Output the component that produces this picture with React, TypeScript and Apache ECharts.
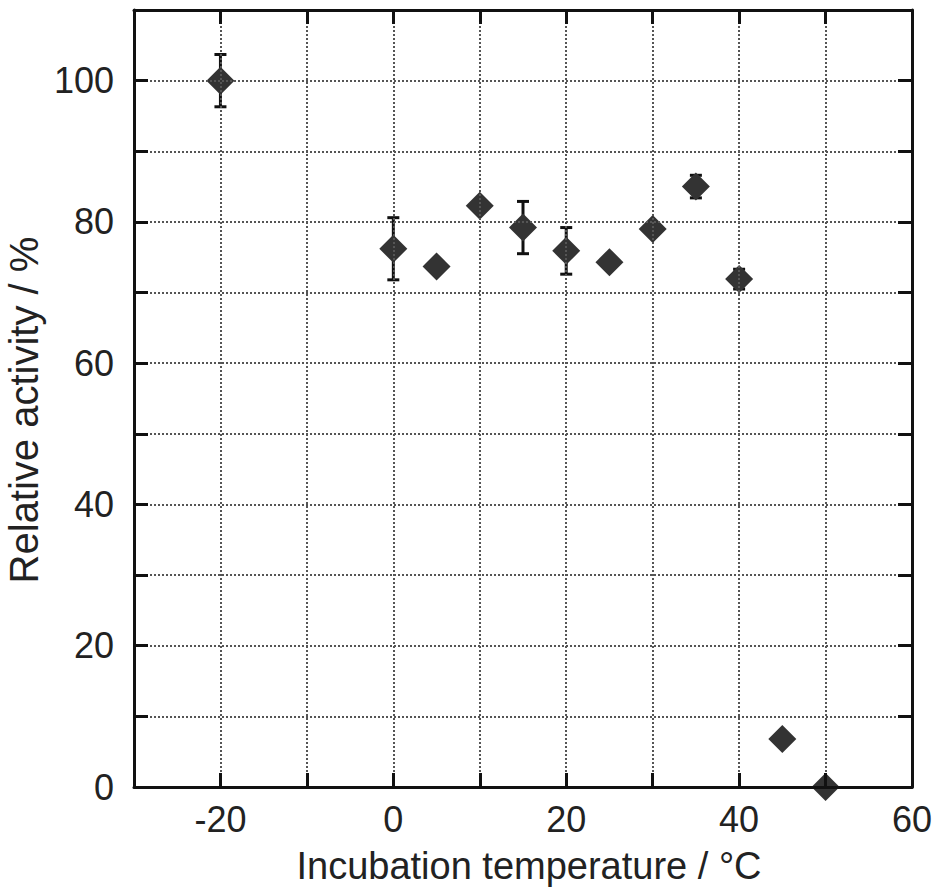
import React, { useEffect, useRef } from "react";
import * as echarts from "echarts";

const temperatures = [-20, 0, 5, 10, 15, 20, 25, 30, 35, 40, 45, 50];
const activity = [100, 76.2, 73.7, 82.3, 79.2, 75.9, 74.3, 79.0, 85.0, 71.9, 6.8, 0];
const errors = [3.7, 4.4, 0, 0, 3.7, 3.3, 0, 0, 1.6, 1.4, 0, 0];
const xLabelValues = [-20, 0, 20, 40, 60];
const yLabelValues = [0, 20, 40, 60, 80, 100];

const FONT = "'Liberation Sans', Arial, Helvetica, sans-serif";

export default function App() {
  const ref = useRef<HTMLDivElement>(null);
  useEffect(() => {
    if (!ref.current) return;
    const chart = echarts.init(ref.current, null, { renderer: "svg" });
    const points = temperatures.map((t, i) => [t, activity[i]]);
    const errData = temperatures
      .map((t, i) => [t, activity[i] - errors[i], activity[i] + errors[i]])
      .filter((d, i) => errors[i] > 0);
    const axisLine = { show: true, onZero: false, lineStyle: { color: "#111", width: 3 } };
    const tick = { show: true, inside: true, length: 14, lineStyle: { color: "#111", width: 3 } };
    const split = { show: true, lineStyle: { color: "#555", width: 2, type: [2, 2] as any } };
    chart.setOption({
      animation: false,
      backgroundColor: "#fff",
      grid: { left: 134, right: 27, top: 10, bottom: 106, containLabel: false },
      xAxis: [
        {
          type: "value",
          min: -30,
          max: 60,
          interval: 10,
          position: "bottom",
          z: 5,
          axisLine,
          axisTick: tick,
          splitLine: split,
          axisLabel: {
            margin: 14,
            fontSize: 36,
            fontFamily: FONT,
            color: "#222",
            formatter: (v: number) => (xLabelValues.includes(v) ? String(v) : ""),
          },
        },
        {
          type: "value",
          min: -30,
          max: 60,
          interval: 10,
          position: "top",
          z: 5,
          axisLine,
          axisTick: tick,
          splitLine: { show: false },
          axisLabel: { show: false },
        },
      ],
      yAxis: [
        {
          type: "value",
          min: 0,
          max: 110,
          interval: 10,
          position: "left",
          z: 5,
          axisLine,
          axisTick: tick,
          splitLine: split,
          axisLabel: {
            margin: 20,
            fontSize: 36,
            fontFamily: FONT,
            color: "#222",
            formatter: (v: number) => (yLabelValues.includes(v) ? String(v) : ""),
          },
        },
        {
          type: "value",
          min: 0,
          max: 110,
          interval: 10,
          position: "right",
          z: 5,
          axisLine,
          axisTick: tick,
          splitLine: { show: false },
          axisLabel: { show: false },
        },
      ],
      graphic: [
        {
          type: "text",
          x: 529,
          y: 866,
          style: {
            text: "Incubation temperature / °C",
            font: `38px ${FONT}`,
            fill: "#222",
            textAlign: "center",
            textVerticalAlign: "middle",
          },
        },
        {
          type: "text",
          x: 24,
          y: 410,
          rotation: Math.PI / 2,
          style: {
            text: "Relative activity / %",
            font: `40px ${FONT}`,
            fill: "#222",
            textAlign: "center",
            textVerticalAlign: "middle",
          },
        },
      ],
      series: [
        {
          type: "custom",
          xAxisIndex: 0,
          yAxisIndex: 0,
          clip: false,
          z: 3,
          data: errData,
          renderItem: (params: any, api: any) => {
            const x = api.value(0);
            const lo = api.coord([x, api.value(1)]);
            const hi = api.coord([x, api.value(2)]);
            const w = 6;
            const style = { stroke: "#111", lineWidth: 3 };
            return {
              type: "group",
              children: [
                { type: "line", shape: { x1: lo[0], y1: lo[1], x2: hi[0], y2: hi[1] }, style },
                { type: "line", shape: { x1: lo[0] - w, y1: lo[1], x2: lo[0] + w, y2: lo[1] }, style },
                { type: "line", shape: { x1: hi[0] - w, y1: hi[1], x2: hi[0] + w, y2: hi[1] }, style },
              ],
            };
          },
        },
        {
          type: "scatter",
          xAxisIndex: 0,
          yAxisIndex: 0,
          symbol: "diamond",
          symbolSize: [28, 28],
          clip: false,
          z: 4,
          itemStyle: { color: "#333", opacity: 1 },
          data: points,
        },
      ],
    });
    return () => chart.dispose();
  }, []);
  return <div ref={ref} style={{ width: 939, height: 893, position: "absolute", left: 0, top: 0 }} />;
}
